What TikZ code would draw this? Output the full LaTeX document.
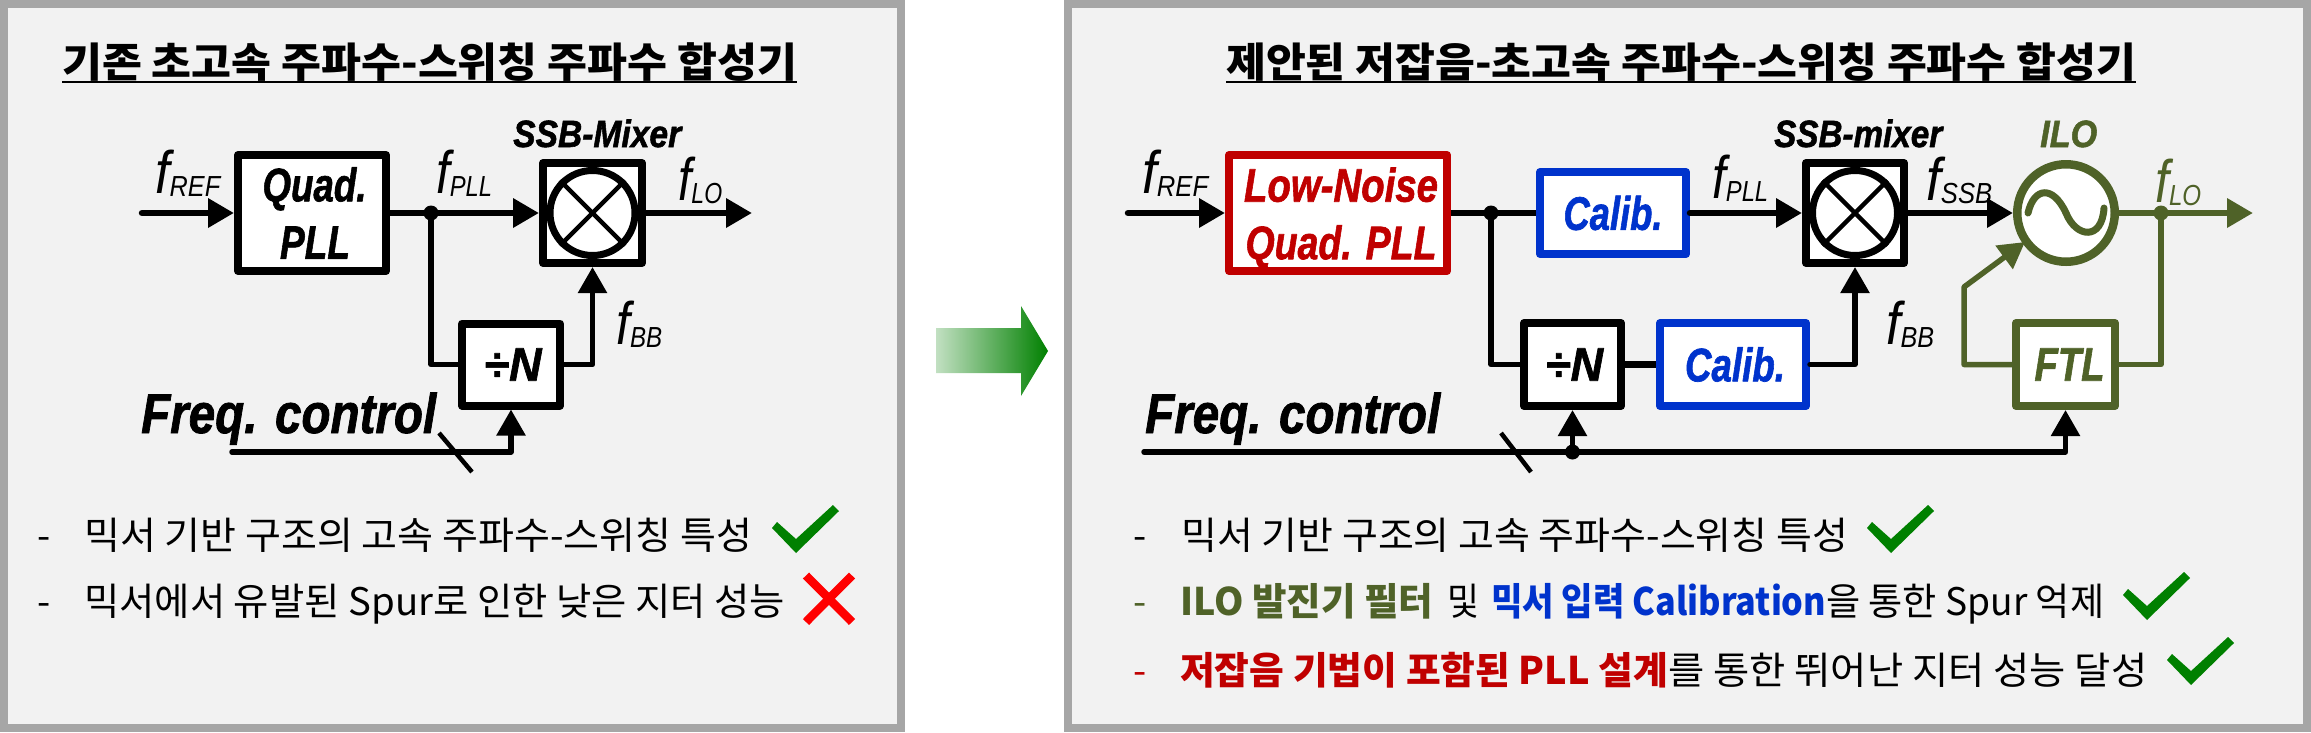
\documentclass[tikz,border=0pt]{standalone}
\usepackage{graphicx}
\usepackage{fontspec}
\setmainfont{Liberation Sans}[BoldItalicFeatures={FakeBold=1.5}]
\newfontfamily\krf{Noto Sans CJK KR}
\usetikzlibrary{arrows.meta}
\definecolor{framegray}{HTML}{A6A6A6}
\definecolor{panelgray}{HTML}{F2F2F2}
\definecolor{olivec}{HTML}{4F6228}
\definecolor{redc}{HTML}{C00000}
\definecolor{bluec}{HTML}{0033CC}
\definecolor{greenc}{HTML}{008000}
\definecolor{lightg}{HTML}{C2E0C2}
\newcommand{\fsz}[1]{\fontsize{#1}{#1}\selectfont}
\newcommand{\fitw}[2]{\resizebox{#1pt}{\height}{#2}}
\newcommand{\bi}{\bfseries\itshape}
\newcommand{\flabel}[2]{\fitw{#1}{\itshape\fsz{60}f\raisebox{-3pt}{\fsz{29}#2}}}
\newcommand{\chkmark}[2]{\fill[greenc] (#1,#2) -- ++(5,-6) -- ++(19,17) -- ++(37,-34) -- ++(6,6) -- ++(-43,42) -- cycle;}
\tikzset{
  panel/.style={draw=framegray,fill=panelgray,line width=8pt},
  txt/.style={inner sep=0pt,anchor=base west},
  box/.style={draw,fill=white,line width=8pt,line join=round,rectangle,inner sep=0pt},
  boxtext/.style={font=\bi\fsz{47}},
  sig/.style={line width=6.5pt,line cap=round,-{Triangle[length=26pt,width=28pt]}},
  sigs/.style={line width=5.5pt,line join=round,line cap=round,-{Triangle[length=26pt,width=28pt]}},
  wire/.style={line width=6.5pt},
  wires/.style={line width=5.5pt,line join=round},
  dot/.style={circle,fill,inner sep=0pt,minimum size=15pt},
  mixc/.style={circle,draw,line width=7pt,minimum size=85pt,inner sep=0pt},
  cross/.style={line width=4.5pt},
  slash/.style={line width=4.5pt},
  ttl/.style={txt,font=\krf\bfseries\fsz{41}},
  bul/.style={txt,font=\krf\fsz{38}},
}
\begin{document}
\begin{tikzpicture}[x=1pt,y=-1pt]
\useasboundingbox (0,0) rectangle (2311,732);
% panels
\draw[panel] (4,4) rectangle (901,728);
\draw[panel] (1068,4) rectangle (2307,728);
% big arrow
\shade[left color=lightg,right color=greenc] (936,328) -- (1021,328) -- (1021,306) -- (1048,351) -- (1021,396) -- (1021,373) -- (936,373) -- cycle;
% titles
\node[ttl] (t1) at (62,77) {\fitw{735}{기존 초고속 주파수-스위칭 주파수 합성기}};
\draw[line width=2.5pt] (62,82) -- (797,82);
\node[ttl] (t2) at (1226,77) {\fitw{910}{제안된 저잡음-초고속 주파수-스위칭 주파수 합성기}};
\draw[line width=2.5pt] (1226,82) -- (2136,82);

%%% left diagram
\node[box,boxtext,minimum width=148pt,minimum height=116pt,align=center] (pll) at (312,213) {\hspace*{5pt}\fitw{104}{Quad.}\\[10.5pt]\hspace*{6pt}\fitw{70}{PLL}};
\node[box,minimum width=99pt,minimum height=100pt] (mix) at (592.5,213) {};
\node[mixc] (mc) at (592.5,213) {};
\draw[cross] (mc.north west) -- (mc.south east);
\draw[cross] (mc.north east) -- (mc.south west);
\node[box,boxtext,minimum width=98pt,minimum height=82pt] (div) at (511,364.5) {\hspace*{4pt}\fitw{57}{÷N}};
\coordinate (inl) at (142,213);
\coordinate (outl) at (752,213);
\coordinate (ctl) at (232,452);
\node[dot] (jl) at (431,213) {};
\draw[sig] (inl) -- (pll.west);
\draw[sig] (pll.east) -- (mix.west);
\draw[sig] (mix.east) -- (outl);
\draw[wires] (jl.center) |- (div.west);
\draw[sigs] (div.east) -| (mix.south);
\draw[sigs] (ctl) -| (div.south);
\coordinate (s1a) at (439,433);
\coordinate (s1b) at (472,472);
\draw[slash] (s1a) -- (s1b);
\node[txt] (lref) at (155,193) {\flabel{65}{REF}};
\node[txt] (lpll) at (436,193) {\flabel{56}{PLL}};
\node[txt] (llo) at (678,200) {\flabel{44}{LO}};
\node[txt] (lbb) at (616,344) {\flabel{46}{BB}};
\node[txt,font=\bi\fsz{38}] (lssb) at (513,147) {\fitw{168}{SSB-Mixer}};
\node[txt,font=\bi\fsz{56}] (lfc) at (141,433) {\fitw{295}{Freq. control}};
% left bullets
\node[bul] (ld1) at (37,549) {-};
\node[bul] (lb1) at (84,549) {\fitw{668}{믹서 기반 구조의 고속 주파수-스위칭 특성}};
\chkmark{772}{528}
\node[bul] (ld2) at (37,615) {-};
\node[bul] (lb2) at (84,615) {\fitw{701}{믹서에서 유발된 Spur로 인한 낮은 지터 성능}};
\draw[red,line width=8.5pt] (806,575.5) -- (852,622);
\draw[red,line width=8.5pt] (852,575.5) -- (806,622);

%%% right diagram
\node[box,boxtext,draw=redc,minimum width=218pt,minimum height=116pt,align=center,text=redc] (pll2) at (1338,213) {\rule{0pt}{44pt}\hspace*{6pt}\fitw{194}{Low-Noise}\\[10.5pt]\hspace*{6pt}\fitw{191}{Quad. PLL}};
\node[box,boxtext,draw=bluec,minimum width=146pt,minimum height=82pt,text=bluec] (cal1) at (1613,213) {\fitw{99}{Calib.}};
\node[box,minimum width=98pt,minimum height=100pt] (mix2) at (1855,213) {};
\node[mixc] (mc2) at (1855,213) {};
\draw[cross] (mc2.north west) -- (mc2.south east);
\draw[cross] (mc2.north east) -- (mc2.south west);
\node[circle,draw=olivec,fill=white,line width=8.5pt,minimum size=97.5pt,inner sep=0pt] (ilo) at (2066,213) {};
\draw[olivec,line width=7pt,line cap=round] (2028,213) .. controls (2034,187) and (2053,185) .. (2066,213) .. controls (2076,238) and (2102,241) .. (2104,208);
\node[box,boxtext,minimum width=97pt,minimum height=83pt] (div2) at (1572.5,364.5) {\hspace*{4pt}\fitw{57}{÷N}};
\node[box,boxtext,draw=bluec,minimum width=146pt,minimum height=83pt,text=bluec] (cal2) at (1733,364.5) {\hspace*{4pt}\fitw{100}{Calib.}};
\node[box,boxtext,draw=olivec,minimum width=99pt,minimum height=83pt,text=olivec] (ftl) at (2065.5,364.5) {\hspace*{8pt}\fitw{70}{FTL}};
\coordinate (inr) at (1128,213);
\coordinate (outr) at (2253,213);
\coordinate (ctr) at (1144,452);
\coordinate (fb1) at (1964,287);
\node[dot] (jr) at (1491,213) {};
\node[dot] (jc) at (1572.5,452) {};
\node[dot,color=olivec] (jo) at (2161,213) {};
\coordinate (ilotip) at (2025,242);
\draw[sig] (inr) -- (pll2.west);
\draw[wire] (pll2.east) -- (cal1.west);
\draw[sig] (cal1.east) -- (mix2.west);
\draw[sig] (mix2.east) -- (ilo.west);
\draw[sig,olivec] (ilo.east) -- (outr);
\draw[wires] (jr.center) |- (div2.west);
\draw[wire] (div2.east) -- (cal2.west);
\draw[sigs] (cal2.east) -| (mix2.south);
\draw[sigs] (ctr) -| (ftl.south);
\draw[sigs] (jc.center) -- (div2.south);
\draw[wires,olivec] (jo.center) |- (ftl.east);
\draw[sigs,olivec,line cap=butt] (ftl.west) -| (fb1) -- (ilotip);
\coordinate (s2a) at (1501,433);
\coordinate (s2b) at (1531,472);
\draw[slash] (s2a) -- (s2b);
\node[txt] (rref) at (1142,193) {\flabel{66}{REF}};
\node[txt] (rpll) at (1712,198) {\flabel{56}{PLL}};
\node[txt] (rssb) at (1926,200) {\flabel{66}{SSB}};
\node[txt,text=olivec] (rlo) at (2155,202) {\flabel{46}{LO}};
\node[txt] (rbb) at (1886,344) {\flabel{48}{BB}};
\node[txt,font=\bi\fsz{38}] (rssbm) at (1774,147) {\fitw{168}{SSB-mixer}};
\node[txt,font=\bi\fsz{38},text=olivec] (rilo) at (2040,147) {\fitw{57}{ILO}};
\node[txt,font=\bi\fsz{56}] (rfc) at (1145,433) {\fitw{295}{Freq. control}};
% right bullets
\node[bul] (rd1) at (1133,549) {-};
\node[bul] (rb1) at (1181,549) {\fitw{667}{믹서 기반 구조의 고속 주파수-스위칭 특성}};
\chkmark{1867}{528}
\node[bul,text=olivec] (rd2) at (1133,615) {-};
\node[bul] (rb2) at (1180,615) {\fitw{253}{\textcolor{olivec}{\bfseries ILO 발진기 필터}}\hspace*{14pt}\fitw{32}{및}\hspace*{12pt}\fitw{335}{\textcolor{bluec}{\bfseries 믹서 입력 Calibration}}\fitw{278}{을 통한 Spur 억제}};
\chkmark{2123}{595}
\node[bul,text=redc] (rd3) at (1133,684) {-};
\node[bul] (rb3) at (1180,684) {\fitw{488}{\textcolor{redc}{\bfseries 저잡음 기법이 포함된 PLL 설계}}\fitw{479}{를 통한 뛰어난 지터 성능 달성}};
\chkmark{2167}{660}
\end{tikzpicture}
\end{document}
